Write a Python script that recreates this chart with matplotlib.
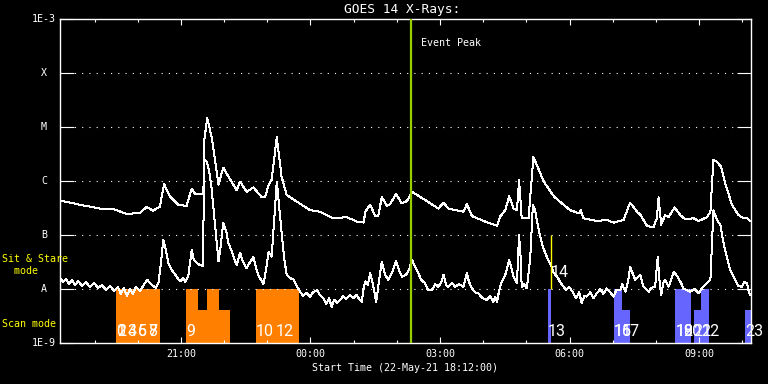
"""GOES 14 X-ray flux overview with IRIS-style scan / sit-and-stare markers."""

import matplotlib
matplotlib.use("Agg")
import matplotlib.pyplot as plt
import matplotlib.transforms as mtransforms
import numpy as np

# ---- data (times are hours after 22-May-21 00:00, flux as log10 W/m^2) ----
long_hours = [18.20, 18.66, 19.13, 19.43, 19.75, 20.05, 20.21, 20.35, 20.51, 20.61,
              20.75, 20.94, 21.13, 21.25, 21.33, 21.48, 21.52, 21.54, 21.61, 21.71,
              21.79, 21.87, 21.98, 22.10, 22.29, 22.37, 22.52, 22.68, 22.87, 22.95,
              23.03, 23.10, 23.22, 23.33, 23.45, 23.64, 23.99, 24.22, 24.53, 24.84,
              25.07, 25.23, 25.27, 25.38, 25.50, 25.57, 25.65, 25.77, 25.84, 25.98,
              26.11, 26.21, 26.28, 26.35, 26.65, 26.96, 27.08, 27.19, 27.54, 27.62,
              27.74, 28.04, 28.32, 28.39, 28.51, 28.60, 28.70, 28.78, 28.83, 28.89,
              29.05, 29.12, 29.16, 29.24, 29.40, 29.64, 30.01, 30.23, 30.26, 30.32,
              30.63, 30.86, 31.02, 31.25, 31.40, 31.56, 31.64, 31.79, 31.94, 32.02,
              32.06, 32.12, 32.21, 32.29, 32.43, 32.56, 32.68, 32.87, 32.99, 33.18,
              33.26, 33.33, 33.41, 33.51, 33.60, 33.76, 33.91, 34.03, 34.11, 34.18]
long_logflux = [-6.36, -6.44, -6.51, -6.52, -6.61, -6.59, -6.48, -6.55, -6.48, -6.06,
                -6.29, -6.44, -6.46, -6.14, -6.24, -6.24, -6.24, -5.24, -4.84, -5.18,
                -5.61, -6.07, -5.75, -5.92, -6.17, -6.01, -6.20, -6.12, -6.30, -6.30,
                -6.07, -5.98, -5.19, -5.92, -6.26, -6.36, -6.54, -6.57, -6.69, -6.67,
                -6.75, -6.77, -6.57, -6.44, -6.65, -6.65, -6.30, -6.46, -6.43, -6.24,
                -6.41, -6.38, -6.32, -6.20, -6.35, -6.51, -6.40, -6.51, -6.57, -6.43,
                -6.65, -6.75, -6.83, -6.66, -6.54, -6.28, -6.51, -6.54, -5.98, -6.69,
                -6.69, -5.98, -5.56, -5.70, -6.01, -6.29, -6.54, -6.60, -6.54, -6.69,
                -6.74, -6.72, -6.77, -6.72, -6.40, -6.57, -6.63, -6.83, -6.86, -6.69,
                -6.30, -6.81, -6.63, -6.67, -6.49, -6.63, -6.71, -6.69, -6.74, -6.67,
                -6.57, -5.61, -5.64, -5.74, -6.04, -6.44, -6.63, -6.69, -6.69, -6.74]

short_hours = [18.20, 18.27, 18.34, 18.41, 18.48, 18.55, 18.62, 18.71, 18.80, 18.89,
               18.99, 19.08, 19.17, 19.27, 19.36, 19.45, 19.54, 19.61, 19.68, 19.75,
               19.82, 19.89, 19.96, 20.05, 20.15, 20.22, 20.28, 20.35, 20.42, 20.48,
               20.54, 20.59, 20.66, 20.71, 20.79, 20.90, 20.98, 21.05, 21.10, 21.17,
               21.25, 21.30, 21.37, 21.44, 21.51, 21.54, 21.60, 21.65, 21.71, 21.79,
               21.87, 21.91, 21.98, 22.05, 22.10, 22.18, 22.29, 22.37, 22.44, 22.52,
               22.60, 22.68, 22.74, 22.79, 22.91, 22.97, 23.03, 23.10, 23.16, 23.22,
               23.27, 23.34, 23.39, 23.45, 23.53, 23.60, 23.67, 23.76, 23.83, 23.90,
               23.99, 24.06, 24.15, 24.22, 24.30, 24.36, 24.43, 24.49, 24.55, 24.62,
               24.69, 24.76, 24.82, 24.92, 24.99, 25.07, 25.13, 25.19, 25.22, 25.27,
               25.33, 25.38, 25.45, 25.52, 25.59, 25.65, 25.73, 25.80, 25.89, 25.98,
               26.05, 26.12, 26.21, 26.28, 26.35, 26.42, 26.50, 26.56, 26.65, 26.72,
               26.81, 26.89, 26.96, 27.03, 27.08, 27.14, 27.19, 27.28, 27.35, 27.44,
               27.54, 27.62, 27.67, 27.74, 27.81, 27.89, 27.98, 28.08, 28.16, 28.23,
               28.28, 28.32, 28.37, 28.43, 28.51, 28.60, 28.65, 28.70, 28.78, 28.83,
               28.87, 28.89, 28.95, 29.01, 29.09, 29.15, 29.20, 29.25, 29.32, 29.39,
               29.47, 29.57, 29.62, 29.71, 29.78, 29.86, 29.92, 29.99, 30.09, 30.15,
               30.22, 30.28, 30.34, 30.40, 30.48, 30.55, 30.63, 30.71, 30.78, 30.86,
               30.94, 31.02, 31.08, 31.17, 31.22, 31.29, 31.36, 31.40, 31.45, 31.52,
               31.64, 31.71, 31.77, 31.83, 31.89, 31.98, 32.04, 32.08, 32.12, 32.17,
               32.21, 32.29, 32.35, 32.41, 32.47, 32.52, 32.58, 32.64, 32.72, 32.79,
               32.89, 32.99, 33.07, 33.18, 33.26, 33.33, 33.41, 33.49, 33.53, 33.60,
               33.72, 33.83, 33.90, 33.99, 34.04, 34.11, 34.14, 34.18]
short_logflux = [-7.80, -7.87, -7.81, -7.91, -7.83, -7.93, -7.85, -7.94, -7.87, -7.96,
                 -7.89, -7.98, -7.93, -8.02, -7.94, -8.04, -7.96, -8.09, -7.98, -8.13,
                 -8.00, -8.09, -7.96, -8.04, -7.91, -7.83, -7.89, -7.94, -7.98, -7.89,
                 -7.50, -7.09, -7.31, -7.52, -7.65, -7.77, -7.86, -7.80, -7.87, -7.76,
                 -7.28, -7.46, -7.52, -7.56, -7.57, -5.61, -5.64, -5.80, -6.14, -6.81,
                 -7.49, -7.28, -6.78, -6.94, -7.15, -7.31, -7.56, -7.33, -7.50, -7.62,
                 -7.50, -7.41, -7.61, -7.74, -7.91, -7.65, -7.31, -7.40, -6.72, -6.01,
                 -6.44, -7.03, -7.43, -7.74, -7.80, -7.82, -7.93, -8.05, -8.13, -8.07,
                 -8.14, -8.06, -8.02, -8.11, -8.17, -8.28, -8.17, -8.33, -8.20, -8.26,
                 -8.20, -8.13, -8.19, -8.11, -8.17, -8.11, -8.19, -8.24, -8.02, -7.86,
                 -7.93, -7.70, -7.93, -8.24, -7.83, -7.49, -7.74, -7.83, -7.69, -7.49,
                 -7.65, -7.77, -7.74, -7.65, -7.46, -7.59, -7.71, -7.83, -7.89, -8.02,
                 -8.02, -7.91, -7.96, -7.87, -7.74, -7.93, -7.96, -7.89, -7.96, -7.91,
                 -7.96, -7.71, -7.87, -7.99, -8.06, -8.08, -8.17, -8.20, -8.13, -8.24,
                 -8.14, -8.24, -8.02, -7.86, -7.74, -7.46, -7.61, -7.77, -7.89, -7.00,
                 -7.46, -7.96, -7.91, -7.99, -7.40, -6.44, -6.54, -6.76, -7.03, -7.24,
                 -7.40, -7.56, -7.69, -7.77, -7.87, -7.96, -8.02, -7.96, -8.08, -8.17,
                 -8.06, -8.26, -8.13, -8.14, -8.06, -8.17, -8.08, -8.00, -8.09, -7.99,
                 -8.06, -8.14, -8.02, -8.02, -7.91, -8.05, -7.83, -7.59, -7.69, -7.83,
                 -7.74, -7.96, -8.00, -8.05, -7.98, -7.96, -7.40, -7.83, -8.11, -7.89,
                 -7.83, -7.96, -7.83, -7.68, -7.74, -7.80, -7.89, -7.99, -8.02, -8.05,
                 -8.00, -8.08, -7.98, -7.89, -7.83, -6.54, -6.72, -6.81, -7.00, -7.28,
                 -7.65, -7.83, -7.94, -7.96, -7.87, -7.89, -8.02, -8.11]

# scan-mode observation blocks: start / end (hours), top of bar (W/m^2), block id
scan_start = [19.50, 21.12, 21.39, 21.61, 21.88, 22.74, 29.50, 31.03, 31.21, 32.45, 32.87, 33.05, 34.07]
scan_end = [20.52, 21.39, 21.61, 21.88, 22.14, 23.74, 29.57, 31.21, 31.40, 32.82, 33.05, 33.23, 34.26]
scan_top = [1e-8, 1e-8, 4e-9, 1e-8, 4e-9, 1e-8, 1e-8, 1e-8, 4e-9, 1e-8, 4e-9, 1e-8, 4e-9]
scan_block = [1, 1, 1, 1, 1, 1, 2, 2, 2, 2, 2, 2, 2]

# file numbers and their start times
scan_file_no = [0, 1, 2, 3, 4, 5, 6, 7, 8, 9, 10, 12, 13, 15, 16, 17, 18, 19, 20, 21, 22, 23]
scan_file_time = [19.51, 19.51, 19.52, 19.75, 19.76, 20.00, 20.00, 20.24, 20.25, 21.12, 22.74, 23.20,
                  29.50, 31.03, 31.03, 31.21, 32.45, 32.46, 32.63, 32.87, 33.05, 34.07]

# sit-and-stare observation
sit_stare_file_no = 14
sit_stare_time = 29.56

event_peak_time = 26.32

flux_levels = [1e-9, 1e-8, 1e-7, 1e-6, 1e-5, 1e-4, 1e-3]
flux_labels = ["1E-9", "A", "B", "C", "M", "X", "1E-3"]
hour_ticks = [21, 24, 27, 30, 33]
hour_labels = ["21:00", "00:00", "03:00", "06:00", "09:00"]

# ---- figure ----
plt.rcParams["font.family"] = ["DejaVu Sans Mono"]
W, H = 768, 384
fig = plt.figure(figsize=(W / 100, H / 100), dpi=100, facecolor="black")
ax = fig.add_axes([60 / W, 41 / H, 691 / W, 324 / H])
ax.set_facecolor("black")
ax.set_yscale("log")
ax.set_xlim(18.2, 34.2)
ax.set_ylim(1e-9, 1e-3)

block_colors = {1: "#ff8000", 2: "#6666ff"}
for s, e, top, blk in zip(scan_start, scan_end, scan_top, scan_block):
    ax.bar(s, top - 1e-9, width=e - s, bottom=1e-9, align="edge",
           color=block_colors[blk], linewidth=0, zorder=1)

for lvl in flux_levels[1:-1]:
    ax.axhline(lvl, color="white", lw=0.8, linestyle=(0, (1, 5.5)), zorder=2)

ax.plot(long_hours, 10 ** np.array(long_logflux), color="white", lw=0.72,
        antialiased=False, zorder=3)
ax.plot(short_hours, 10 ** np.array(short_logflux), color="white", lw=0.72,
        antialiased=False, zorder=3)

ax.axvline(event_peak_time, color="#9acd00", lw=1.6, zorder=4)
ax.text(event_peak_time + 0.24, 3.6e-4, "Event Peak", color="white", fontsize=7.2,
        ha="left", va="center")

num_font = dict(color="white", fontsize=11.5, family=["Roboto", "DejaVu Sans"],
                ha="left", va="center", zorder=5)
ax.vlines(sit_stare_time, 1e-8, 1e-7, color="yellow", lw=1.0, zorder=4)
ax.text(sit_stare_time, 2.0e-8, str(sit_stare_file_no), **num_font)
for n, t in zip(scan_file_no, scan_file_time):
    ax.text(t, 1.6e-9, str(n), **num_font)

# axes frame and ticks
for sp in ax.spines.values():
    sp.set_color("white")
    sp.set_linewidth(1.0)
ax.set_xticks(hour_ticks)
ax.set_xticklabels(hour_labels)
ax.set_xticks(np.arange(19, 35), minor=True)
ax.tick_params(axis="x", which="major", direction="in", length=4.3, width=0.8,
               top=True, bottom=True, colors="white", labelsize=7.2, pad=4)
ax.tick_params(axis="x", which="minor", direction="in", length=2.2, width=0.8,
               top=True, bottom=True, colors="white")
ax.set_yticks(flux_levels)
ax.yaxis.set_minor_locator(matplotlib.ticker.NullLocator())
ax.tick_params(axis="y", which="major", direction="in", length=10, width=0.8,
               left=True, right=True, labelleft=False, colors="white")

ylab_trans = mtransforms.blended_transform_factory(fig.transFigure, ax.transData)
for lvl, lab in zip(flux_levels, flux_labels):
    ax.text(44 / W, lvl, lab, transform=ylab_trans, color="white", fontsize=7.2,
            ha="center", va="center", clip_on=False)

fig.text(2 / W, 1 - 259 / H, "Sit & Stare", color="yellow", fontsize=7.2, ha="left", va="center")
fig.text(2 / W, 1 - 271 / H, "  mode", color="yellow", fontsize=7.2, ha="left", va="center")
fig.text(2 / W, 1 - 324 / H, "Scan mode", color="yellow", fontsize=7.2, ha="left", va="center")

fig.text(402 / W, 1 - 9.5 / H, "GOES 14 X-Rays:", color="white", fontsize=9.3,
         ha="center", va="center")
fig.text(404.5 / W, 1 - 368 / H, "Start Time (22-May-21 18:12:00)", color="white",
         fontsize=7.2, ha="center", va="center")

fig.savefig("out.png", dpi=100, facecolor="black")
